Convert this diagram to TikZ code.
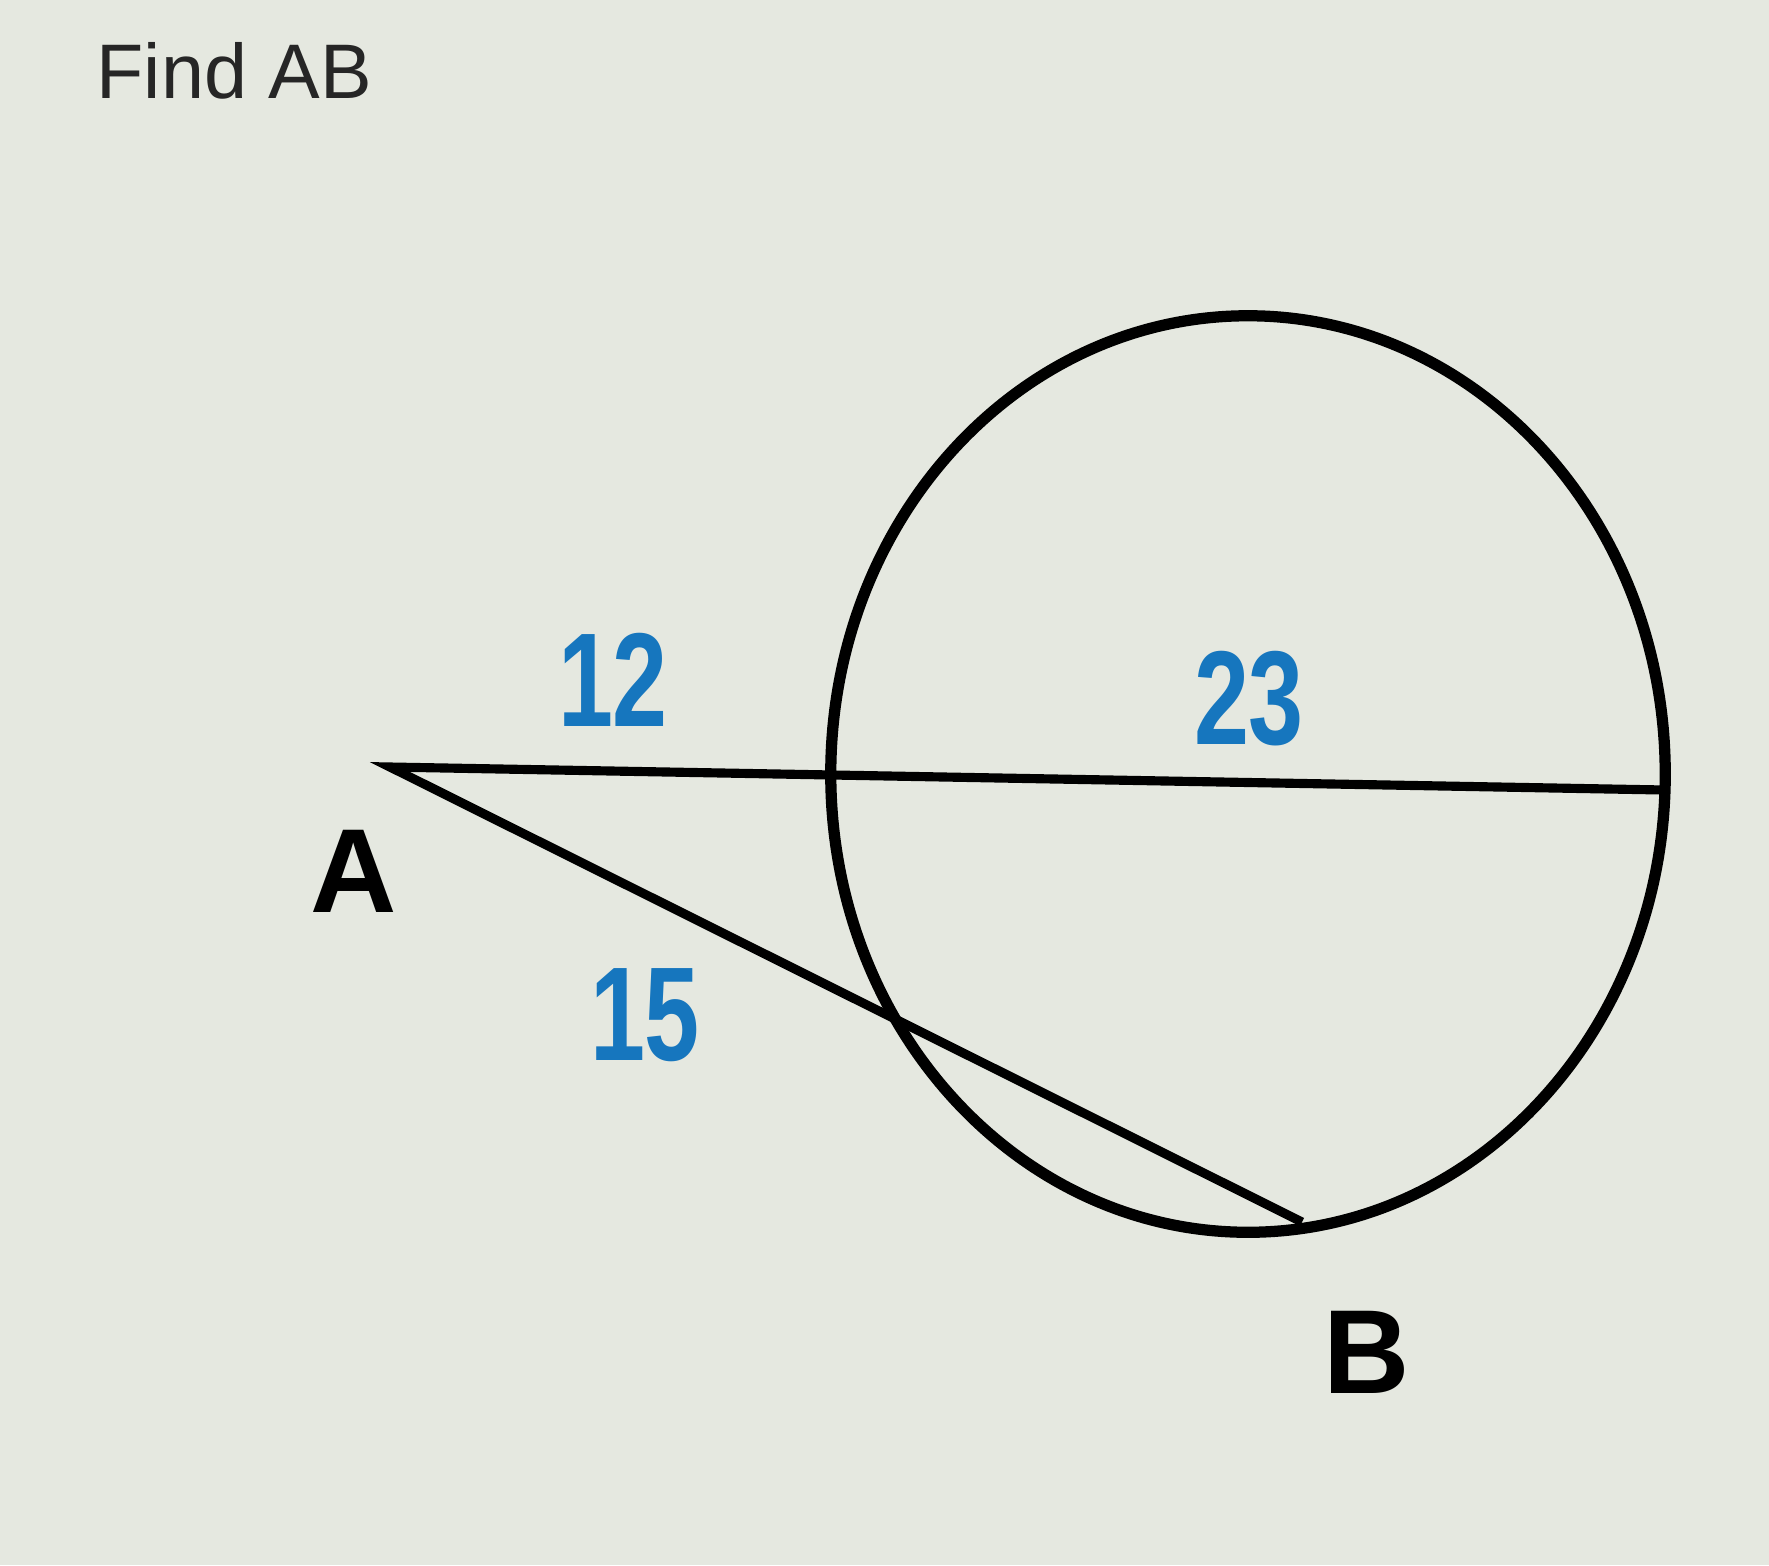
\documentclass[tikz,border=0pt]{standalone}
\usepackage{fontspec}
\setmainfont{Liberation Sans}
\newfontfamily\numfont[FakeStretch=0.74]{Liberation Sans}
\usepackage{tikz}
\definecolor{paper}{RGB}{229,232,224}
\definecolor{numblue}{RGB}{22,118,190}
\definecolor{titlegray}{RGB}{38,38,38}

\begin{document}
\begin{tikzpicture}[x=0.01cm,y=-0.01cm]
\tikzstyle{every node}=[inner sep=0pt];
\tikzstyle{ptlabel}=[font=\fontsize{34}{40}\selectfont\bfseries];
\tikzstyle{seglabel}=[font=\fontsize{38}{44}\selectfont\numfont\bfseries,text=numblue];
\fill[paper] (0,0) rectangle (1769,1565);
\useasboundingbox (0,0) rectangle (1769,1565);
\node[anchor=west,text=titlegray,font=\fontsize{22}{26}\selectfont] (title) at (96,71) {Find AB};
% circle and secants
\coordinate (O) at (1248,774);
\coordinate (A) at (390,767);
\coordinate (B) at (1302,1222);
\coordinate (Q) at (1665,790);
\draw[line width=3.2pt] (O) ellipse [x radius=4.17cm, y radius=4.58cm];
\draw[line width=2.6pt,line join=miter] (Q) -- (A) -- (B);
\node[ptlabel] (labA) at (354,871) {A};
\node[ptlabel] (labB) at (1367,1352) {B};
\node[seglabel] (n12) at (613,680) {12};
\node[seglabel] (n23) at (1249,699) {23};
\node[seglabel] (n15) at (645,1015) {15};
\end{tikzpicture}
\end{document}
